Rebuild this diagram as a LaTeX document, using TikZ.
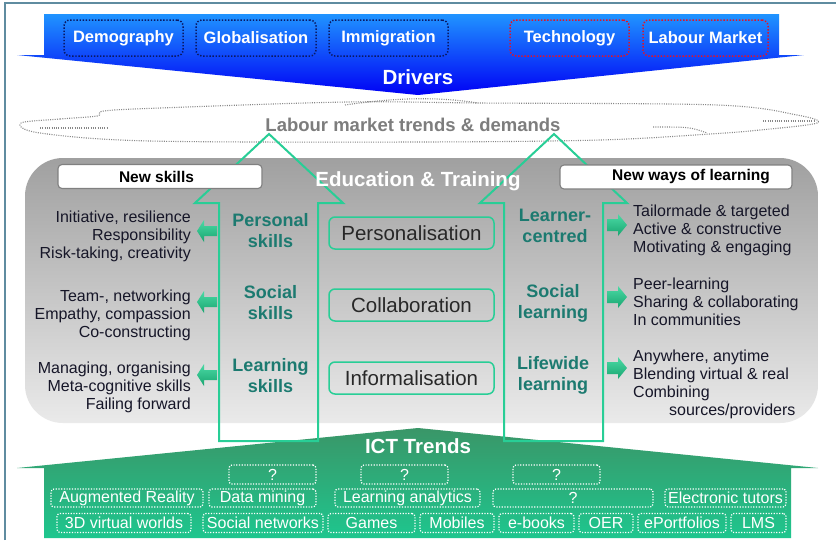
\documentclass[tikz,border=0pt]{standalone}
\usepackage{fontspec}
\setmainfont{Liberation Sans}
\newcommand\myfs[2]{\fontsize{#1}{#2}\selectfont}
\definecolor{drvtop}{RGB}{32,148,255}
\definecolor{drvmid}{RGB}{8,100,255}
\definecolor{drvbot}{RGB}{0,0,245}
\definecolor{icttop}{RGB}{58,150,104}
\definecolor{ictbot}{RGB}{30,198,142}
\definecolor{grytop}{RGB}{160,160,160}
\definecolor{grybot}{RGB}{234,234,234}
\definecolor{arrgreen}{RGB}{40,206,150}
\definecolor{tealtxt}{RGB}{28,122,112}
\definecolor{navytxt}{RGB}{22,22,40}
\definecolor{navydot}{RGB}{10,25,100}
\definecolor{reddot}{RGB}{225,20,40}
\definecolor{framec}{RGB}{95,140,160}
\definecolor{cloudc}{RGB}{135,135,135}
\definecolor{lmtc}{RGB}{125,125,125}
\definecolor{cboxtxt}{RGB}{40,40,40}
\begin{document}
\begin{tikzpicture}[x=1pt,y=-1pt,
  drvbox/.style={draw=navydot, dash pattern=on 1.4pt off 1.7pt, line width=1.5pt,
    rounded corners=6pt, minimum width=#1, minimum height=36pt, inner sep=0pt,
    text=white, font=\myfs{16.5}{18}\bfseries},
  ictbox/.style={draw=white, dash pattern=on 1.2pt off 1.5pt, line width=1.2pt,
    rounded corners=3pt, minimum width=#1, minimum height=18pt, inner sep=0pt,
    text=white, font=\myfs{16}{18}},
  titletxt/.style={text=white, font=\myfs{20.5}{22}\bfseries, inner sep=0pt},
  hdbox/.style={draw=gray, line width=1.1pt, fill=white, rounded corners=4pt,
    minimum height=24pt, inner sep=0pt},
  hdtxt/.style={text=black, font=\myfs{15.5}{18}\bfseries, inner sep=0pt},
  midlbl/.style={text=tealtxt, font=\myfs{18}{21}\bfseries, align=center, inner sep=0pt},
  cbox/.style={draw=arrgreen, line width=1.5pt, rounded corners=6pt,
    minimum width=165pt, minimum height=32pt, inner sep=0pt,
    text=cboxtxt, font=\myfs{20.5}{22}},
  ltxt/.style={anchor=east, align=right, text=navytxt, font=\myfs{16}{18}, inner sep=0pt},
  rtxt/.style={anchor=west, align=left, text=navytxt, font=\myfs{16}{18}, inner sep=0pt},
  bigarrow/.style={draw=arrgreen, line width=2pt, line join=miter},
  smallarr/.style={top color={rgb,255:red,75;green,218;blue,165}, bottom color={rgb,255:red,25;green,165;blue,112}},
  cloudl/.style={draw=cloudc, line width=1.1pt, dash pattern=on 1pt off 1.3pt}
]
\useasboundingbox (0,0) rectangle (836,547);
\fill[white] (0,0) rectangle (836,547);
% frame
\draw[framec, line width=1.5pt] (5,540) -- (5,3) -- (836,3);

% drivers banner
\shade[top color=drvtop, middle color=drvmid, bottom color=drvbot]
  (44,14) -- (779,14) -- (779,55) -- (804,55) -- (418,95) -- (17,55) -- (44,55) -- cycle;

% cloud
\draw[cloudl] plot[smooth cycle, tension=0.55] coordinates {(21,123) (60,119) (97,116) (104,111) (160,108) (347,102) (480,103) (717,105) (797,115) (817,123) (760,130) (710,134) (600,140) (420,142) (150,141) (40,133)};
\draw[cloudl] (40,128) -- (107,128);
\draw[cloudl] (653,127) .. controls (690,127) .. (707,133);
\draw[cloudl] (763,121) -- (815,121);
\draw[cloudl] (345,105) .. controls (400,97) and (440,97) .. (478,103);

% grey education box
\shade[top color=grytop, bottom color=grybot, rounded corners=38pt] (25,158) rectangle (818,423);

% ICT banner
\shade[top color=icttop, bottom color=ictbot]
  (44,538) -- (44,468) -- (17,468) -- (418,428) -- (818,468) -- (791,468) -- (791,538) -- cycle;

% big arrows
\draw[bigarrow] (219,441) -- (219,203) -- (195,203) -- (269,134) -- (343,203) -- (318,203) -- (318,441) -- cycle;
\draw[bigarrow] (504,441) -- (504,203) -- (480,203) -- (554,134) -- (627,203) -- (603,203) -- (603,441) -- cycle;

% small arrows
\foreach \yy in {231,302,375}{
  \shade[smallarr] (197,\yy) -- (204,\yy-11) -- (204,\yy-5) -- (217,\yy-5) -- (217,\yy+5) -- (204,\yy+5) -- (204,\yy+11) -- cycle;
}
\foreach \yy in {225,297,368}{
  \shade[smallarr] (607,\yy-6) -- (618,\yy-6) -- (618,\yy-11) -- (627,\yy) -- (618,\yy+11) -- (618,\yy+6) -- (607,\yy+6) -- cycle;
}

% driver boxes
\node[titletxt] (drivers) at (418,77) {Drivers};
\node[drvbox=119pt] (demo) at (123.5,38) {Demography};
\node[drvbox=120pt] (glob) at (256,38) {Globalisation};
\node[drvbox=119pt] (immi) at (388.5,38) {\raisebox{2pt}{Immigration}};
\node[drvbox=119pt, draw=reddot] (tech) at (569.5,38) {Technology};
\node[drvbox=125pt, draw=reddot] (labm) at (705.5,38) {Labour Market};

% cloud text
\node[text=lmtc, font=\myfs{18.5}{20}\bfseries, inner sep=0pt] (lmt) at (413,125) {Labour market trends \& demands};

% education
\node[titletxt] (edu) at (418,181) {Education \& Training};
\node[hdbox, minimum width=204pt] (nsbox) at (160,176.5) {};
\node[hdtxt] (nstxt) at (156.5,176.5) {New skills};
\node[hdbox, minimum width=232pt] (nwbox) at (676,177) {};
\node[hdtxt] (nwtxt) at (691,177) {New ways of learning};

\node[midlbl] (pers) at (270.5,231) {Personal\\skills};
\node[midlbl] (socs) at (270.5,303) {Social\\skills};
\node[midlbl] (lrns) at (270.5,376) {Learning\\skills};
\node[midlbl] (lcen) at (555,225.5) {Learner-\\centred};
\node[midlbl] (socl) at (553,303) {Social\\learning};
\node[midlbl] (lifw) at (553,375) {Lifewide\\learning};

\node[cbox] (cpers) at (411.5,233) {Personalisation};
\node[cbox] (ccoll) at (411.5,305) {Collaboration};
\node[cbox] (cinf) at (411.5,378) {Informalisation};

\node[ltxt] (l1) at (191,236.5) {Initiative, resilience\\Responsibility\\Risk-taking, creativity};
\node[ltxt] (l2) at (191,315) {Team-, networking\\Empathy, compassion\\Co-constructing};
\node[ltxt] (l3) at (191,387) {Managing, organising\\Meta-cognitive skills\\Failing forward};

\node[rtxt] (r1) at (633,230) {Tailormade \& targeted\\Active \& constructive\\Motivating \& engaging};
\node[rtxt] (r2) at (633,302) {Peer-learning\\Sharing \& collaborating\\In communities};
\node[rtxt] (r3) at (633,384) {Anywhere, anytime\\Blending virtual \& real\\Combining\\\hspace*{36pt}sources/providers};

% ICT
\node[titletxt] (ict) at (418,446) {ICT Trends};
\node[ictbox=87pt, minimum height=19pt] (q1) at (272.5,474.5) {?};
\node[ictbox=87pt, minimum height=19pt] (q2) at (404.5,474.5) {?};
\node[ictbox=87pt, minimum height=19pt] (q3) at (556.5,474.5) {?};
\node[ictbox=152pt] (ar) at (127,498) {Augmented Reality};
\node[ictbox=107pt] (dm) at (262.5,498) {Data mining};
\node[ictbox=145pt] (la) at (407.5,498) {Learning analytics};
\node[ictbox=160pt] (q4) at (573,498) {?};
\node[ictbox=121pt] (et) at (725.5,498) {Electronic tutors};
\node[ictbox=134pt, minimum height=19pt] (vw) at (124,523) {3D virtual worlds};
\node[ictbox=120pt, minimum height=19pt] (sn) at (263,523) {Social networks};
\node[ictbox=87pt, minimum height=19pt] (gm) at (371.5,523) {Games};
\node[ictbox=74pt, minimum height=19pt] (mb) at (457,523) {Mobiles};
\node[ictbox=75pt, minimum height=19pt] (eb) at (536.5,523) {e-books};
\node[ictbox=54pt, minimum height=19pt] (oer) at (606,523) {OER};
\node[ictbox=88pt, minimum height=19pt] (ep) at (682,523) {ePortfolios};
\node[ictbox=55pt, minimum height=19pt] (lms) at (758.5,523) {LMS};
\end{tikzpicture}
\end{document}
